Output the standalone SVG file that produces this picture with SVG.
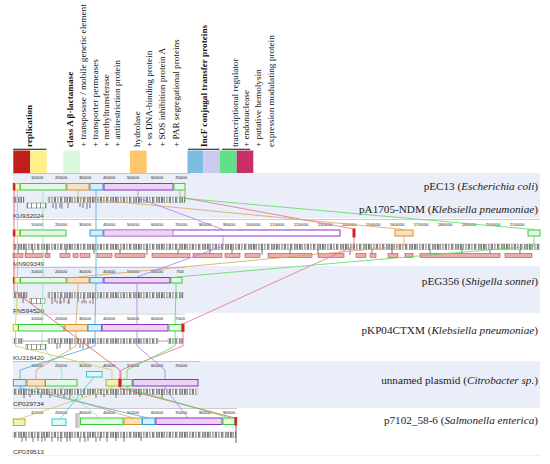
<svg xmlns="http://www.w3.org/2000/svg" width="550" height="464" viewBox="0 0 550 464">
<defs>
<pattern id="bc" width="23" height="8" patternUnits="userSpaceOnUse">
<rect width="23" height="8" fill="#fff"/>
<path d="M0.5 0v8M1.7 0v8M3.2 0v8M5.9 0v8M8.3 0v8M9.4 0v8M11.9 0v8M14.6 0v8M15.8 0v8M18.7 0v8M20.1 0v8M21.6 0v8" stroke="#111" stroke-width="0.6"/>
</pattern>
<pattern id="bc2" width="9" height="8" patternUnits="userSpaceOnUse">
<rect width="9" height="8" fill="#fff"/>
<path d="M0.5 0v8M4.5 0v8" stroke="#222" stroke-width="0.5"/>
</pattern>
<style>
.lg{font-family:"Liberation Serif","DejaVu Serif",serif;font-size:9.2px;fill:#111}
.lb{font-weight:bold}
.gn{font-family:"Liberation Serif","DejaVu Serif",serif;font-size:11.2px;fill:#222;text-anchor:end}
.it{font-style:italic}
.rl{font-family:"Liberation Sans",Arial,sans-serif;font-size:4.4px;fill:#222;text-anchor:middle}
.ac{font-family:"Liberation Sans",Arial,sans-serif;font-size:5px;fill:#333}
.ru{stroke:#a8a8b0;stroke-width:0.6}
.b{stroke-width:1}
.gr{fill:#e4f8e4;stroke:#3ccc3c}
.or{fill:#f6e2c2;stroke:#d2932c}
.bl{fill:#dcecf7;stroke:#2e9dd0}
.pu{fill:#ecd2f3;stroke:#8f30c0}
.pw{fill:#fff;stroke:#8f30c0}
.ye{fill:#fcf5bd;stroke:#c8c038}
.ol{fill:#f1f1b0;stroke:#b5b52e}
.rd{fill:#d42020;stroke:#d42020}
.cy{fill:#e2f9fa;stroke:#34c6cf}
.row{fill:url(#bc);stroke:#777;stroke-width:0.3}
.row2{fill:url(#bc2);stroke:#444;stroke-width:0.4}
.pk{fill:#eeabab;stroke:#a33;stroke-width:0.5}
.tk{stroke:#222;stroke-width:0.6}
.rt{stroke:#c33;stroke-width:0.8}
.cn{fill:none;stroke-width:0.8}
</style>
</defs>
<rect width="550" height="464" fill="#fff"/>

<g id="legend">
<rect x="13.3" y="150.5" width="16.7" height="22.5" fill="#c11f1c"/>
<rect x="30" y="150.5" width="16.7" height="22.5" fill="#fff08c"/>
<rect x="63.3" y="150.5" width="16.7" height="22.5" fill="#dcf8dc"/>
<rect x="130" y="150.5" width="16.7" height="22.5" fill="#ffc66e"/>
<rect x="187.5" y="150.5" width="15.8" height="22.5" fill="#7dbde2"/>
<rect x="203.3" y="150.5" width="16.7" height="22.5" fill="#cdc9ef"/>
<rect x="220" y="150.5" width="16.7" height="22.5" fill="#62e088"/>
<rect x="236.7" y="150.5" width="16.6" height="22.5" fill="#c62f68"/>
<path d="M13 149.3H46.5M188 149.3H219.5M222 149.3H250" stroke="#111" stroke-width="1.1"/>
<text class="lg lb" transform="translate(32,147) rotate(-90)">replication</text>
<text class="lg lb" transform="translate(72.5,147) rotate(-90)">class A β-lactamase</text>
<text class="lg" transform="translate(86,147) rotate(-90)">+ transposase / mobile genetic element</text>
<text class="lg" transform="translate(97.5,147) rotate(-90)">+ transporter permeases</text>
<text class="lg" transform="translate(108.5,147) rotate(-90)">+ methyltransferase</text>
<text class="lg" transform="translate(120,147) rotate(-90)">+ antirestriction protein</text>
<text class="lg" transform="translate(139.5,147) rotate(-90)">hydrolase</text>
<text class="lg" transform="translate(152,147) rotate(-90)">+ ss DNA-binding protein</text>
<text class="lg" transform="translate(165,147) rotate(-90)">+ SOS inhibition protein A</text>
<text class="lg" transform="translate(179,147) rotate(-90)">+ PAR segregational proteins</text>
<text class="lg lb" transform="translate(206.5,147) rotate(-90)">IncF conjugal transfer proteins</text>
<text class="lg" transform="translate(238,147) rotate(-90)">transcriptional regulator</text>
<text class="lg" transform="translate(249,147) rotate(-90)">+ endonuclease</text>
<text class="lg" transform="translate(261,147) rotate(-90)">+ putative hemolysin</text>
<text class="lg" transform="translate(274,147) rotate(-90)">expression modulating protein</text>
</g>

<g id="backgrounds">
<rect x="13" y="173" width="527" height="45" fill="#e9eef8"/>
<rect x="13" y="266" width="527" height="47" fill="#e9eef8"/>
<rect x="13" y="361" width="527" height="47" fill="#e9eef8"/>
<line x1="8" y1="455.5" x2="540" y2="455.5" stroke="#eef0f4" stroke-width="1"/>
</g>

<g id="pEC13">
<line class="ru" x1="13" y1="173.5" x2="190" y2="173.5"/>
<text class="rl" x="37" y="179">10000</text><text class="rl" x="61" y="179">20000</text><text class="rl" x="85" y="179">30000</text><text class="rl" x="109" y="179">40000</text><text class="rl" x="133" y="179">50000</text><text class="rl" x="157" y="179">60000</text><text class="rl" x="181" y="179">70000</text>
<rect class="rd b" x="13.3" y="183.5" width="2" height="6.5"/>
<rect class="ye b" x="15.5" y="183.5" width="4.3" height="6.5"/>
<rect class="gr b" x="20.3" y="183.5" width="45.7" height="6.5"/>
<rect class="or b" x="67" y="183.5" width="22" height="6.5"/>
<rect class="bl b" x="90" y="183.5" width="13" height="6.5"/>
<rect class="pu b" x="104" y="183.5" width="69" height="6.5"/>
<rect class="gr b" x="174" y="183.5" width="11" height="6.5"/>
<rect class="row" x="13" y="197" width="11" height="5.5"/>
<rect class="row" x="48" y="197" width="137" height="5.5"/>
<rect class="row2" x="27" y="203" width="19" height="5"/>
<path class="tk" d="M53 203v5M56 203v6M60 203v5M62 203v6M68 203v5M80 203v4M83 203v5M87 203v6M90 203v5"/>
<text class="ac" x="13" y="218" textLength="31" lengthAdjust="spacingAndGlyphs">KU932024</text>
<text class="gn" x="538" y="190">pEC13 (<tspan class="it">Escherichia coli</tspan>)</text>
<text class="gn" x="538" y="213">pA1705-NDM (<tspan class="it">Klebsiella pneumoniae</tspan>)</text>
</g>

<g id="pA1705-NDM">
<line class="ru" x1="13" y1="219.5" x2="540" y2="219.5"/>
<text class="rl" x="37" y="226">10000</text><text class="rl" x="61" y="226">20000</text><text class="rl" x="85" y="226">30000</text><text class="rl" x="109" y="226">40000</text><text class="rl" x="133" y="226">50000</text><text class="rl" x="157" y="226">60000</text><text class="rl" x="181" y="226">70000</text><text class="rl" x="205" y="226">80000</text><text class="rl" x="229" y="226">90000</text><text class="rl" x="253" y="226">100000</text><text class="rl" x="277" y="226">110000</text><text class="rl" x="301" y="226">120000</text><text class="rl" x="325" y="226">130000</text><text class="rl" x="349" y="226">140000</text><text class="rl" x="373" y="226">150000</text><text class="rl" x="397" y="226">160000</text><text class="rl" x="421" y="226">170000</text><text class="rl" x="445" y="226">180000</text><text class="rl" x="469" y="226">190000</text><text class="rl" x="493" y="226">200000</text><text class="rl" x="517" y="226">210000</text>
<rect class="rd b" x="13.3" y="230" width="2" height="6"/>
<rect class="ye b" x="15.5" y="230" width="4" height="6"/>
<rect class="gr b" x="20.3" y="230" width="45.7" height="6"/>
<rect class="bl b" x="90" y="230" width="13" height="6"/>
<rect class="pw b" x="104" y="230" width="236" height="6"/>
<rect x="104.5" y="230.5" width="68.5" height="5" fill="#ecd2f3"/>
<line x1="173" y1="230" x2="173" y2="236" stroke="#8f30c0" stroke-width="0.6"/>
<rect class="rd" x="353" y="229" width="2" height="8"/>
<rect class="or b" x="395" y="230" width="18" height="6"/>
<rect class="gr b" x="528" y="230" width="12" height="6"/>
<rect class="row" x="13" y="244" width="527" height="5.5"/>
<path class="tk" d="M18 249v6M26 249v5M33 249v4M47 249v6M66 249v5M94 249v5M120 249v5M147 249v6M178 249v5M210 249v6M232 249v5M262 249v6M290 249v5M318 249v5M350 249v6M372 249v6M392 249v5M430 249v5M462 249v6M490 249v5M520 249v6"/>
<rect class="pk" x="13" y="253.5" width="10" height="4"/><rect class="pk" x="25" y="253.5" width="18" height="4"/><rect class="pk" x="45" y="253.5" width="5" height="4"/><rect class="pk" x="60" y="253.5" width="10" height="4"/><rect class="pk" x="73" y="253.5" width="5" height="4"/><rect class="pk" x="80" y="253.5" width="10" height="4"/><rect class="pk" x="97" y="253.5" width="15" height="4"/><rect class="pk" x="115" y="253.5" width="30" height="4"/><rect class="pk" x="152" y="253.5" width="38" height="4"/><rect class="pk" x="193" y="253.5" width="29" height="4"/><rect class="pk" x="225" y="253.5" width="15" height="4"/><rect class="pk" x="245" y="253.5" width="15" height="4"/><rect class="pk" x="268" y="253.5" width="44" height="4"/><rect class="pk" x="318" y="253.5" width="26" height="4"/><rect class="pk" x="356" y="253.5" width="10" height="4"/><rect class="pk" x="370" y="253.5" width="6" height="4"/><rect class="pk" x="388" y="253.5" width="10" height="4"/><rect class="pk" x="405" y="253.5" width="8" height="4"/><rect class="pk" x="420" y="253.5" width="80" height="4"/><rect class="pk" x="505" y="253.5" width="27" height="4"/>
<text class="ac" x="13" y="266" textLength="31" lengthAdjust="spacingAndGlyphs">MN909349</text>
</g>

<g id="pEG356">
<line class="ru" x1="13" y1="267.5" x2="185" y2="267.5"/>
<text class="rl" x="37" y="273">10000</text><text class="rl" x="61" y="273">20000</text><text class="rl" x="85" y="273">30000</text><text class="rl" x="109" y="273">40000</text><text class="rl" x="133" y="273">50000</text><text class="rl" x="157" y="273">60000</text><text class="rl" x="180" y="273">700</text>
<rect class="rd b" x="13.3" y="277.5" width="1.4" height="5.5"/>
<rect class="ye b" x="14.8" y="277.5" width="5" height="5.5"/>
<rect class="gr b" x="20.5" y="277.5" width="45.5" height="5.5"/>
<rect class="or b" x="67" y="277.5" width="22" height="5.5"/>
<rect class="bl b" x="90" y="277.5" width="13" height="5.5"/>
<rect class="pu b" x="104" y="277.5" width="66" height="5.5"/>
<rect class="gr b" x="171" y="277.5" width="11" height="5.5"/>
<rect class="row" x="13" y="292.5" width="14" height="5.5"/>
<rect class="row" x="48" y="292.5" width="135" height="5.5"/>
<rect class="row2" x="30" y="298.5" width="15" height="5"/>
<path class="tk" d="M23 298v5M52 298v6M55 298v4M60 298v6M64 298v5M69 298v6M78 298v4M84 298v5M93 298v6"/>
<path class="rt" d="M57 300.5v3M61 300.5v3M68 300.5v3M82 300.5v3M86 300.5v3M90 300.5v3"/>
<text class="ac" x="13" y="313" textLength="31" lengthAdjust="spacingAndGlyphs">FN594520</text>
<text class="gn" x="538" y="285">pEG356 (<tspan class="it">Shigella sonnei</tspan>)</text>
</g>

<g id="pKP04CTXM">
<line class="ru" x1="13" y1="314" x2="185" y2="314"/>
<text class="rl" x="37" y="320">10000</text><text class="rl" x="61" y="320">20000</text><text class="rl" x="85" y="320">30000</text><text class="rl" x="109" y="320">40000</text><text class="rl" x="133" y="320">50000</text><text class="rl" x="157" y="320">60000</text><text class="rl" x="180" y="320">7000</text>
<rect class="ye b" x="13.3" y="324.5" width="4.7" height="6.5"/>
<rect class="gr b" x="18.5" y="324.5" width="45.5" height="6.5"/>
<rect class="or b" x="65" y="324.5" width="22.5" height="6.5"/>
<rect class="bl b" x="88" y="324.5" width="13.5" height="6.5"/>
<rect class="pu b" x="102" y="324.5" width="66" height="6.5"/>
<rect class="gr b" x="169" y="324.5" width="13" height="6.5"/>
<rect class="rd" x="182" y="324" width="2" height="7.5"/>
<line x1="13" y1="341" x2="183" y2="341" stroke="#555" stroke-width="0.5"/>
<rect class="row" x="13" y="338.5" width="10" height="5"/>
<rect class="row" x="48" y="338.5" width="110" height="5"/>
<rect class="row" x="168" y="338.5" width="15" height="5"/>
<rect class="row2" x="26" y="344.5" width="20" height="5"/>
<path class="tk" d="M57 343v6M60 343v5M70 343v6M80 343v5M83 343v6M88 343v5"/>
<text class="ac" x="13" y="360" textLength="31" lengthAdjust="spacingAndGlyphs">KU318420</text>
<text class="gn" x="538" y="334">pKP04CTXM (<tspan class="it">Klebsiella pneumoniae</tspan>)</text>
</g>

<g id="unnamed-plasmid">
<line class="ru" x1="13" y1="361.5" x2="200" y2="361.5"/>
<text class="rl" x="37" y="367">10000</text><text class="rl" x="61" y="367">20000</text><text class="rl" x="85" y="367">30000</text><text class="rl" x="109" y="367">40000</text><text class="rl" x="133" y="367">50000</text><text class="rl" x="157" y="367">60000</text><text class="rl" x="181" y="367">70000</text>
<rect class="cy b" x="86.5" y="371.5" width="15.5" height="5.5"/>
<rect class="bl b" x="13.3" y="379.5" width="12.7" height="6.5"/>
<rect class="or b" x="27" y="379.5" width="18" height="6.5"/>
<rect class="gr b" x="45.5" y="379.5" width="31.5" height="6.5"/>
<rect class="ol b" x="106" y="379.5" width="13" height="6.5"/>
<rect class="rd" x="119" y="379" width="2" height="7.5"/>
<rect class="gr b" x="121.5" y="379.5" width="10.5" height="6.5"/>
<rect class="pu b" x="133" y="379.5" width="65" height="6.5"/>
<rect class="row" x="13" y="389" width="185" height="5.5"/>
<path class="tk" d="M24 394v4M30 394v3M41 394v4M50 394v4M58 394v3M64 394v4M70 394v4M82 394v3M96 394v4M104 394v3M116 394v4M140 394v3M162 394v4"/>
<text class="ac" x="13" y="406" textLength="31" lengthAdjust="spacingAndGlyphs">CP029734</text>
<text class="gn" x="538" y="384">unnamed plasmid (<tspan class="it">Citrobacter sp.</tspan>)</text>
</g>

<g id="p7102_58-6">
<line class="ru" x1="13" y1="408.5" x2="237" y2="408.5"/>
<text class="rl" x="37" y="414">10000</text><text class="rl" x="61" y="414">20000</text><text class="rl" x="85" y="414">30000</text><text class="rl" x="109" y="414">40000</text><text class="rl" x="133" y="414">50000</text><text class="rl" x="157" y="414">60000</text><text class="rl" x="181" y="414">70000</text><text class="rl" x="205" y="414">80000</text><text class="rl" x="229" y="414">90000</text>
<rect class="ol b" x="13.3" y="419" width="11.7" height="6.5"/>
<rect class="cy b" x="52" y="419" width="14" height="6.5"/>
<path d="M76 413v15M77.2 413v15M79 413v15" stroke="#555" stroke-width="0.5"/>
<rect class="gr b" x="80.5" y="418" width="42.5" height="6.5"/>
<rect class="or b" x="124" y="418" width="18" height="6.5"/>
<rect class="bl b" x="142.5" y="418" width="12.5" height="6.5"/>
<rect class="pu b" x="156" y="418" width="66" height="6.5"/>
<rect class="gr b" x="223" y="418" width="12" height="6.5"/>
<rect class="rd" x="235" y="417.5" width="1.6" height="7.5"/>
<rect class="row" x="13" y="432" width="223" height="5.5"/>
<line x1="236" y1="425" x2="236" y2="443" stroke="#222" stroke-width="0.7"/>
<path class="tk" d="M22 437v5M26 437v4M33 437v5M38 437v4M42 437v5M45 437v4M52 437v5M58 437v4M61 437v5M67 437v5M70 437v4M80 437v5M85 437v5M88 437v4M96 437v5M100 437v4M107 437v5M116 437v4M124 437v5M141 437v4"/>
<text class="ac" x="13" y="454" textLength="31" lengthAdjust="spacingAndGlyphs">CP039513</text>
<text class="gn" x="538" y="424">p7102_58-6 (<tspan class="it">Salmonella enterica</tspan>)</text>
</g>

<g id="connectors">
<path class="cn" stroke="#e05858" d="M14 190L14 229.5M14 236L14 277M14 283L14 291L120 370L120 379M120 386L120 388L235 418"/>
<path class="cn" stroke="#ee6a92" d="M185 190L185 198L354 229M354 237L354 246L183 324M183 331L183 346L121 370L121 379"/>
<path class="cn" stroke="#cccc55" d="M17.5 190L17.5 229.5M17.5 236L17.5 277M17.5 283L17.5 291L15.5 324M15.5 331L15.5 346L112 370L112 379M112 386L112 388L19 419"/>
<path class="cn" stroke="#8ee6aa" d="M43 190L43 229.5M43 236L43 277M43 283L42 324M42 331L42 346L62 370L62 379M62 386L62 388L100 418"/>
<path class="cn" stroke="#d9a55a" d="M78 190L78 198L404 229.5M404 236L404 246L78 277M78 283L78 291L76 324M76 331L76 346L36 370L36 379M36 386L36 388L133 418"/>
<path class="cn" stroke="#4aa8d8" d="M96 190L96 229.5M96 236L96 277M96 283L95 324M95 331L95 346L20 370L20 379M20 386L20 388L148 418"/>
<path class="cn" stroke="#b57ae0" d="M138 190L138 198L223 229.5M223 236L223 246L137 277M137 283L137 324M137 331L137 346L165 370L165 379M165 386L165 388L188 418"/>
<path class="cn" stroke="#5cd85c" d="M180 190L180 198L534 229.5M534 236L534 246L176 277M176 283L176 291L175 324M175 331L175 346L127 370L127 379M127 386L127 388L230 418"/>
<path class="cn" stroke="#40ccd6" d="M94 377L60 419"/>
</g>
</svg>
